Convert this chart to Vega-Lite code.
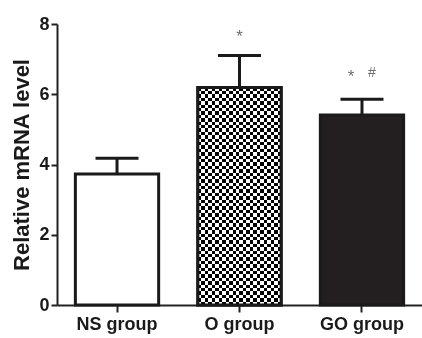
{
  "$schema": "https://vega.github.io/schema/vega-lite/v6.json",
  "width": 365,
  "height": 281,
  "autosize": {"type": "none"},
  "padding": {"left": 57, "top": 24, "right": 0, "bottom": 33},
  "background": "white",
  "config": {
    "view": {"stroke": null},
    "font": "Liberation Sans",
    "axis": {"labelFont": "Liberation Sans", "titleFont": "Liberation Sans", "grid": false}
  },
  "datasets": {
    "bars": [
      {"group": "NS group", "mean": 3.73, "upper": 4.18},
      {"group": "O group", "mean": 6.19, "upper": 7.10},
      {"group": "GO group", "mean": 5.41, "upper": 5.86}
    ],
    "sig": [
      {"group": "O group", "symbol": "*", "level": 7.62},
      {"group": "GO group", "symbol": "*", "level": 6.5},
      {"group": "GO group", "symbol": "#", "level": 6.6}
    ]
  },
  "data": {"name": "bars"},
  "encoding": {
    "x": {
      "field": "group", "type": "nominal", "sort": ["NS group", "O group", "GO group"],
      "scale": {"paddingInner": 0.32, "paddingOuter": 0.15},
      "axis": {
        "title": null, "labelAngle": 0, "labelFontSize": 18, "labelFontWeight": "bold",
        "labelColor": "#1a1a1a", "tickSize": 7, "tickWidth": 2, "tickColor": "#222",
        "domainWidth": 2, "domainColor": "#222", "labelPadding": 3
      }
    }
  },
  "layer": [
    {
      "mark": {"type": "rule", "strokeWidth": 3, "color": "#1a1a1a"},
      "encoding": {
        "y": {"field": "mean", "type": "quantitative", "scale": {"domain": [0, 8], "nice": false},
          "axis": {
            "values": [0, 2, 4, 6, 8], "format": "d", "labelFontSize": 18, "labelFontWeight": "bold",
            "labelColor": "#1a1a1a", "tickSize": 6, "tickWidth": 2, "tickColor": "#222",
            "domainWidth": 2, "domainColor": "#222", "labelPadding": 2,
            "title": "Relative mRNA level", "titleFontSize": 22, "titleFontWeight": "bold",
            "titleColor": "#1a1a1a", "titlePadding": 5
          }
        },
        "y2": {"field": "upper"}
      }
    },
    {
      "mark": {"type": "tick", "size": 43, "thickness": 3, "color": "#1a1a1a", "opacity": 1},
      "encoding": {"y": {"field": "upper", "type": "quantitative"}}
    },
    {
      "mark": {"type": "bar", "stroke": "#1a1a1a", "strokeWidth": 3, "fillOpacity": 1},
      "encoding": {
        "y": {"field": "mean", "type": "quantitative"},
        "fill": {"field": "group", "type": "nominal", "legend": null,
          "scale": {"domain": ["NS group", "O group", "GO group"], "range": ["#ffffff", "#ffffff", "#231f20"]}}
      }
    },
    {
      "transform": [{"filter": "datum.group === 'O group'"}],
      "mark": {"type": "bar", "strokeWidth": 0, "fill": {
        "gradient": "linear", "x1": 0, "y1": 0, "x2": 1, "y2": 0,
        "stops": [
          {"offset": 0, "color": "#fff"}, {"offset": 0.041667, "color": "#fff"},
          {"offset": 0.041667, "color": "#000"}, {"offset": 0.083333, "color": "#000"},
          {"offset": 0.083333, "color": "#fff"}, {"offset": 0.125, "color": "#fff"},
          {"offset": 0.125, "color": "#000"}, {"offset": 0.166667, "color": "#000"},
          {"offset": 0.166667, "color": "#fff"}, {"offset": 0.208333, "color": "#fff"},
          {"offset": 0.208333, "color": "#000"}, {"offset": 0.25, "color": "#000"},
          {"offset": 0.25, "color": "#fff"}, {"offset": 0.291667, "color": "#fff"},
          {"offset": 0.291667, "color": "#000"}, {"offset": 0.333333, "color": "#000"},
          {"offset": 0.333333, "color": "#fff"}, {"offset": 0.375, "color": "#fff"},
          {"offset": 0.375, "color": "#000"}, {"offset": 0.416667, "color": "#000"},
          {"offset": 0.416667, "color": "#fff"}, {"offset": 0.458333, "color": "#fff"},
          {"offset": 0.458333, "color": "#000"}, {"offset": 0.5, "color": "#000"},
          {"offset": 0.5, "color": "#fff"}, {"offset": 0.541667, "color": "#fff"},
          {"offset": 0.541667, "color": "#000"}, {"offset": 0.583333, "color": "#000"},
          {"offset": 0.583333, "color": "#fff"}, {"offset": 0.625, "color": "#fff"},
          {"offset": 0.625, "color": "#000"}, {"offset": 0.666667, "color": "#000"},
          {"offset": 0.666667, "color": "#fff"}, {"offset": 0.708333, "color": "#fff"},
          {"offset": 0.708333, "color": "#000"}, {"offset": 0.75, "color": "#000"},
          {"offset": 0.75, "color": "#fff"}, {"offset": 0.791667, "color": "#fff"},
          {"offset": 0.791667, "color": "#000"}, {"offset": 0.833333, "color": "#000"},
          {"offset": 0.833333, "color": "#fff"}, {"offset": 0.875, "color": "#fff"},
          {"offset": 0.875, "color": "#000"}, {"offset": 0.916667, "color": "#000"},
          {"offset": 0.916667, "color": "#fff"}, {"offset": 0.958333, "color": "#fff"},
          {"offset": 0.958333, "color": "#000"}, {"offset": 1, "color": "#000"}
        ]}},
      "encoding": {"y": {"field": "mean", "type": "quantitative"}}
    },
    {
      "transform": [{"filter": "datum.group === 'O group'"}],
      "mark": {"type": "bar", "strokeWidth": 0, "blend": "difference", "fill": {
        "gradient": "linear", "x1": 0, "y1": 0, "x2": 0, "y2": 1,
        "stops": [
          {"offset": 0, "color": "#fff"}, {"offset": 0.015625, "color": "#fff"},
          {"offset": 0.015625, "color": "#000"}, {"offset": 0.03125, "color": "#000"},
          {"offset": 0.03125, "color": "#fff"}, {"offset": 0.046875, "color": "#fff"},
          {"offset": 0.046875, "color": "#000"}, {"offset": 0.0625, "color": "#000"},
          {"offset": 0.0625, "color": "#fff"}, {"offset": 0.078125, "color": "#fff"},
          {"offset": 0.078125, "color": "#000"}, {"offset": 0.09375, "color": "#000"},
          {"offset": 0.09375, "color": "#fff"}, {"offset": 0.109375, "color": "#fff"},
          {"offset": 0.109375, "color": "#000"}, {"offset": 0.125, "color": "#000"},
          {"offset": 0.125, "color": "#fff"}, {"offset": 0.140625, "color": "#fff"},
          {"offset": 0.140625, "color": "#000"}, {"offset": 0.15625, "color": "#000"},
          {"offset": 0.15625, "color": "#fff"}, {"offset": 0.171875, "color": "#fff"},
          {"offset": 0.171875, "color": "#000"}, {"offset": 0.1875, "color": "#000"},
          {"offset": 0.1875, "color": "#fff"}, {"offset": 0.203125, "color": "#fff"},
          {"offset": 0.203125, "color": "#000"}, {"offset": 0.21875, "color": "#000"},
          {"offset": 0.21875, "color": "#fff"}, {"offset": 0.234375, "color": "#fff"},
          {"offset": 0.234375, "color": "#000"}, {"offset": 0.25, "color": "#000"},
          {"offset": 0.25, "color": "#fff"}, {"offset": 0.265625, "color": "#fff"},
          {"offset": 0.265625, "color": "#000"}, {"offset": 0.28125, "color": "#000"},
          {"offset": 0.28125, "color": "#fff"}, {"offset": 0.296875, "color": "#fff"},
          {"offset": 0.296875, "color": "#000"}, {"offset": 0.3125, "color": "#000"},
          {"offset": 0.3125, "color": "#fff"}, {"offset": 0.328125, "color": "#fff"},
          {"offset": 0.328125, "color": "#000"}, {"offset": 0.34375, "color": "#000"},
          {"offset": 0.34375, "color": "#fff"}, {"offset": 0.359375, "color": "#fff"},
          {"offset": 0.359375, "color": "#000"}, {"offset": 0.375, "color": "#000"},
          {"offset": 0.375, "color": "#fff"}, {"offset": 0.390625, "color": "#fff"},
          {"offset": 0.390625, "color": "#000"}, {"offset": 0.40625, "color": "#000"},
          {"offset": 0.40625, "color": "#fff"}, {"offset": 0.421875, "color": "#fff"},
          {"offset": 0.421875, "color": "#000"}, {"offset": 0.4375, "color": "#000"},
          {"offset": 0.4375, "color": "#fff"}, {"offset": 0.453125, "color": "#fff"},
          {"offset": 0.453125, "color": "#000"}, {"offset": 0.46875, "color": "#000"},
          {"offset": 0.46875, "color": "#fff"}, {"offset": 0.484375, "color": "#fff"},
          {"offset": 0.484375, "color": "#000"}, {"offset": 0.5, "color": "#000"},
          {"offset": 0.5, "color": "#fff"}, {"offset": 0.515625, "color": "#fff"},
          {"offset": 0.515625, "color": "#000"}, {"offset": 0.53125, "color": "#000"},
          {"offset": 0.53125, "color": "#fff"}, {"offset": 0.546875, "color": "#fff"},
          {"offset": 0.546875, "color": "#000"}, {"offset": 0.5625, "color": "#000"},
          {"offset": 0.5625, "color": "#fff"}, {"offset": 0.578125, "color": "#fff"},
          {"offset": 0.578125, "color": "#000"}, {"offset": 0.59375, "color": "#000"},
          {"offset": 0.59375, "color": "#fff"}, {"offset": 0.609375, "color": "#fff"},
          {"offset": 0.609375, "color": "#000"}, {"offset": 0.625, "color": "#000"},
          {"offset": 0.625, "color": "#fff"}, {"offset": 0.640625, "color": "#fff"},
          {"offset": 0.640625, "color": "#000"}, {"offset": 0.65625, "color": "#000"},
          {"offset": 0.65625, "color": "#fff"}, {"offset": 0.671875, "color": "#fff"},
          {"offset": 0.671875, "color": "#000"}, {"offset": 0.6875, "color": "#000"},
          {"offset": 0.6875, "color": "#fff"}, {"offset": 0.703125, "color": "#fff"},
          {"offset": 0.703125, "color": "#000"}, {"offset": 0.71875, "color": "#000"},
          {"offset": 0.71875, "color": "#fff"}, {"offset": 0.734375, "color": "#fff"},
          {"offset": 0.734375, "color": "#000"}, {"offset": 0.75, "color": "#000"},
          {"offset": 0.75, "color": "#fff"}, {"offset": 0.765625, "color": "#fff"},
          {"offset": 0.765625, "color": "#000"}, {"offset": 0.78125, "color": "#000"},
          {"offset": 0.78125, "color": "#fff"}, {"offset": 0.796875, "color": "#fff"},
          {"offset": 0.796875, "color": "#000"}, {"offset": 0.8125, "color": "#000"},
          {"offset": 0.8125, "color": "#fff"}, {"offset": 0.828125, "color": "#fff"},
          {"offset": 0.828125, "color": "#000"}, {"offset": 0.84375, "color": "#000"},
          {"offset": 0.84375, "color": "#fff"}, {"offset": 0.859375, "color": "#fff"},
          {"offset": 0.859375, "color": "#000"}, {"offset": 0.875, "color": "#000"},
          {"offset": 0.875, "color": "#fff"}, {"offset": 0.890625, "color": "#fff"},
          {"offset": 0.890625, "color": "#000"}, {"offset": 0.90625, "color": "#000"},
          {"offset": 0.90625, "color": "#fff"}, {"offset": 0.921875, "color": "#fff"},
          {"offset": 0.921875, "color": "#000"}, {"offset": 0.9375, "color": "#000"},
          {"offset": 0.9375, "color": "#fff"}, {"offset": 0.953125, "color": "#fff"},
          {"offset": 0.953125, "color": "#000"}, {"offset": 0.96875, "color": "#000"},
          {"offset": 0.96875, "color": "#fff"}, {"offset": 0.984375, "color": "#fff"},
          {"offset": 0.984375, "color": "#000"}, {"offset": 1, "color": "#000"}
        ]}},
      "encoding": {"y": {"field": "mean", "type": "quantitative"}}
    },
    {
      "transform": [{"filter": "datum.group === 'O group'"}],
      "mark": {"type": "bar", "fillOpacity": 0, "stroke": "#1a1a1a", "strokeWidth": 3},
      "encoding": {"y": {"field": "mean", "type": "quantitative"}}
    },
    {
      "data": {"name": "sig"},
      "transform": [{"filter": "datum.group === 'O group'"}],
      "mark": {"type": "text", "fontSize": 17, "color": "#6e6e6e", "baseline": "middle", "font": "Liberation Sans"},
      "encoding": {"y": {"field": "level", "type": "quantitative"}, "text": {"field": "symbol"}}
    },
    {
      "data": {"name": "sig"},
      "transform": [{"filter": "datum.group === 'GO group' && datum.symbol === '*'"}],
      "mark": {"type": "text", "fontSize": 17, "color": "#6e6e6e", "baseline": "middle", "dx": -11, "font": "Liberation Sans"},
      "encoding": {"y": {"field": "level", "type": "quantitative"}, "text": {"field": "symbol"}}
    },
    {
      "data": {"name": "sig"},
      "transform": [{"filter": "datum.group === 'GO group' && datum.symbol === '#'"}],
      "mark": {"type": "text", "fontSize": 14, "color": "#6e6e6e", "baseline": "middle", "dx": 10, "font": "Liberation Sans"},
      "encoding": {"y": {"field": "level", "type": "quantitative"}, "text": {"field": "symbol"}}
    }
  ]
}
